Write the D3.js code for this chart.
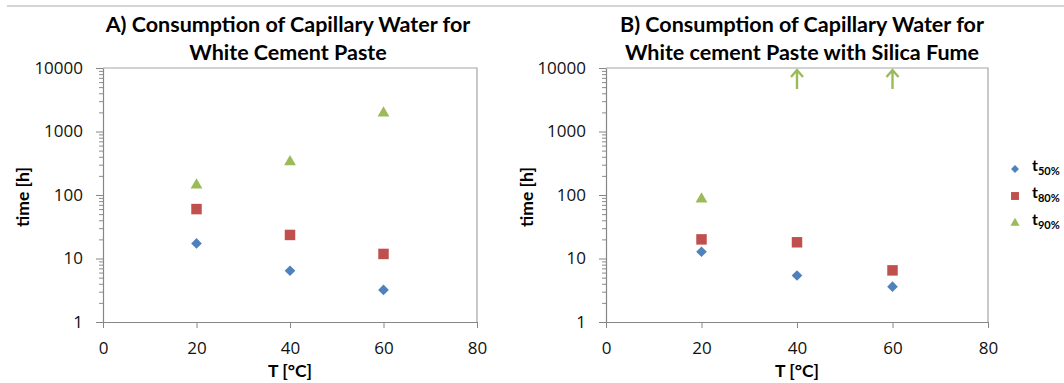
<!DOCTYPE html>
<html>
<head>
<meta charset="utf-8">
<script src="https://cdn.jsdelivr.net/npm/d3@7"></script>
<style>
    body { margin: 0; background: #fff; }
    svg { font-family: Lato, "Open Sans", sans-serif; }
</style>
</head>
<body>
<div id="chart"></div>
<script>
// values
const xTicks = [0, 20, 40, 60, 80];
const yTicks = [1, 10, 100, 1000, 10000];
const temps = [20, 40, 60];

const seriesNames = ['50%', '80%', '90%'];
const seriesColors = ['#4f81bd', '#c0504d', '#9bbb59'];

// panel A: white cement paste
const aT50 = [17.3, 6.4, 3.2];
const aT80 = [60, 23.5, 11.8];
const aT90 = [143, 334, 1950];

// panel B: white cement paste with silica fume
const bT50 = [12.8, 5.4, 3.6];
const bT80 = [20, 18, 6.5];
const bT90 = [86, null, null];
const bT90Beyond = [40, 60]; // t90 above 10000 h, shown as arrows

const panels = [
    {
        title: ['A) Consumption of Capillary Water for', 'White Cement Paste'],
        left: 103, right: 477, top: 68, bottom: 322, yLabelX: 23, titleDx: -2,
        series: [aT50, aT80, aT90], arrows: []
    },
    {
        title: ['B) Consumption of Capillary Water for', 'White cement Paste with Silica Fume'],
        left: 606, right: 988, top: 68, bottom: 322, yLabelX: 527, titleDx: 5,
        series: [bT50, bT80, bT90], arrows: bT90Beyond
    }
];

const width = 1064, height = 383;
const tickFont = '"Open Sans", sans-serif';

const svg = d3.select('#chart').append('svg')
    .attr('width', width)
    .attr('height', height);

// thin frame line at the top of the picture
svg.append('line')
    .attr('x1', 7).attr('x2', width)
    .attr('y1', 6).attr('y2', 6)
    .attr('stroke', '#d4d4d4')
    .attr('stroke-width', 2);

const symbols = [
    d3.symbol().type(d3.symbolDiamond2).size(72),
    d3.symbol().type(d3.symbolSquare2).size(140),
    d3.symbol().type(d3.symbolTriangle2).size(100)
];

const minorTicks = [];
for (let e = 0; e < 4; e++) {
    for (let m = 2; m <= 9; m++) minorTicks.push(m * Math.pow(10, e));
}

panels.forEach(p => {
    const xScale = d3.scaleLinear().domain([0, 80]).range([p.left, p.right]);
    const yScale = d3.scaleLog().domain([1, 10000]).range([p.bottom, p.top]);

    const g = svg.append('g');

    // plot frame (top and right)
    g.append('path')
        .attr('d', `M${p.left},${p.top}H${p.right}V${p.bottom}`)
        .attr('fill', 'none')
        .attr('stroke', '#a6a6a6')
        .attr('stroke-width', 1.2);

    // minor ticks
    const yMinor = d3.axisLeft(yScale)
        .tickValues(minorTicks)
        .tickFormat('')
        .tickSize(4)
        .tickSizeOuter(0);
    g.append('g')
        .attr('transform', `translate(${p.left},0)`)
        .call(yMinor)
        .call(s => s.select('.domain').remove())
        .call(s => s.selectAll('line').attr('stroke', '#8c8c8c'));

    const yAxis = d3.axisLeft(yScale)
        .tickValues(yTicks)
        .tickFormat(d3.format('d'))
        .tickSize(7)
        .tickSizeOuter(0);
    g.append('g')
        .attr('transform', `translate(${p.left},0)`)
        .call(yAxis)
        .call(s => s.select('.domain').attr('stroke', '#868686').attr('stroke-width', 1.2))
        .call(s => s.selectAll('line').attr('stroke', '#868686'))
        .call(s => s.selectAll('text')
            .attr('x', -20)
            .style('font-size', '17px')
            .style('font-family', tickFont)
            .style('fill', '#111'));

    const xAxis = d3.axisBottom(xScale)
        .tickValues(xTicks)
        .tickSize(6)
        .tickSizeOuter(0);
    g.append('g')
        .attr('transform', `translate(0,${p.bottom})`)
        .call(xAxis)
        .call(s => s.select('.domain').attr('stroke', '#868686').attr('stroke-width', 1.2))
        .call(s => s.selectAll('line').attr('stroke', '#868686'))
        .call(s => s.selectAll('text')
            .attr('y', 20)
            .style('font-size', '17px')
            .style('font-family', tickFont)
            .style('fill', '#111'));

    // titles
    const cx = (p.left + p.right) / 2;
    g.append('text')
        .attr('x', cx + p.titleDx).attr('y', 32)
        .attr('text-anchor', 'middle')
        .style('font-size', '21.5px')
        .style('font-weight', 'bold')
        .text(p.title[0]);
    g.append('text')
        .attr('x', cx + p.titleDx).attr('y', 60)
        .attr('text-anchor', 'middle')
        .style('font-size', '21.5px')
        .style('font-weight', 'bold')
        .text(p.title[1]);

    g.append('text')
        .attr('x', cx).attr('y', 377)
        .attr('text-anchor', 'middle')
        .style('font-size', '17.5px')
        .style('font-weight', 'bold')
        .text('T [°C]');

    g.append('text')
        .attr('transform', `translate(${p.yLabelX},${(p.top + p.bottom) / 2 + 2}) rotate(-90)`)
        .attr('text-anchor', 'middle')
        .attr('dy', '0.35em')
        .style('font-size', '17.5px')
        .style('font-weight', 'bold')
        .text('time [h]');

    // markers
    p.series.forEach((vals, si) => {
        const pts = temps.map((t, i) => ({ t: t, v: vals[i] })).filter(d => d.v != null);
        g.selectAll('.m' + si)
            .data(pts)
            .enter()
            .append('path')
            .attr('class', 'm' + si)
            .attr('d', symbols[si])
            .attr('transform', d => `translate(${xScale(d.t)},${yScale(d.v)})`)
            .attr('fill', seriesColors[si]);
    });

    // arrows for values beyond the axis
    p.arrows.forEach(t => {
        const x = xScale(t);
        const y0 = yScale(10000) + 2;
        g.append('path')
            .attr('d', `M${x},${y0 + 19}V${y0}M${x - 6},${y0 + 7}L${x},${y0}L${x + 6},${y0 + 7}`)
            .attr('fill', 'none')
            .attr('stroke', seriesColors[2])
            .attr('stroke-width', 2.4);
    });
});

// legend
const legend = svg.append('g');
seriesNames.forEach((name, i) => {
    const y = 169 + i * 27;
    const sym = d3.symbol().type([d3.symbolDiamond2, d3.symbolSquare2, d3.symbolTriangle2][i])
        .size([40, 80, 60][i]);
    legend.append('path')
        .attr('d', sym)
        .attr('transform', `translate(1015,${y})`)
        .attr('fill', seriesColors[i]);
    const txt = legend.append('text')
        .attr('x', 1032).attr('y', y + 2)
        .style('font-weight', 'bold')
        .style('font-size', '16px');
    txt.append('tspan').text('t');
    txt.append('tspan')
        .attr('dy', 4)
        .style('font-size', '11px')
        .text(name);
});
</script>
</body>
</html>
